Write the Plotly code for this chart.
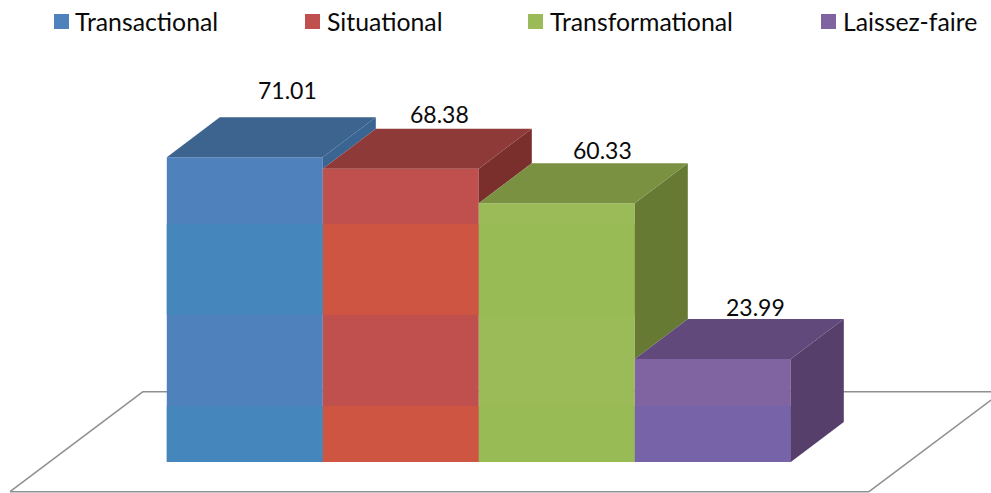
import plotly.graph_objects as go

# Leadership styles and their scores
categories = ["Transactional", "Situational", "Transformational", "Laissez-faire"]
values = [71.01, 68.38, 60.33, 23.99]

# Face colours for each style
front_colors = ["#4F81BD", "#C0504D", "#9BBB59", "#8064A2"]
band_colors = ["#4587BC", "#CD5542", "#98BB55", "#7764A8"]
top_colors = ["#3D638F", "#8E3A38", "#7A9142", "#614A7B"]
side_colors = ["#3A6491", "#7A2F2D", "#667A33", "#563F6A"]

W, H = 991, 493
BASE_PX, LEFT_PX = 462, 166.8
BAR_PX, UNIT_PX = 156.0, 4.29
DEPTH_X = 53 / BAR_PX
DEPTH_Y = 40 / UNIT_PX

# Alternate shaded ranges on the front faces, in value units
shade_ranges = [(0, 13.05), (34.27, 55.48)]

# Per-label nudges for the value captions, in pixels
label_shift = [(-10.5, 12), (-14, 0), (-7, -2), (-10, -3)]

# Legend placement, in pixels
legend_swatch_x = [54, 305, 528, 821]
legend_text_x = [75, 327, 549.5, 843]

fig = go.Figure()
xs = [i + 0.5 for i in range(len(values))]

fig.add_trace(go.Bar(x=xs, y=values, width=1, marker=dict(color=front_colors, line_width=0),
                     customdata=categories, hovertemplate="%{customdata}: %{y}<extra></extra>"))

for low, high in shade_ranges:
    fig.add_trace(go.Bar(
        x=xs, base=[low] * len(values),
        y=[max(min(v, high) - low, 0) for v in values],
        width=1, marker=dict(color=band_colors, line_width=0), hoverinfo="skip"))

# Top and side faces follow the bar values, left to right so nearer faces overlap
for i, v in enumerate(values):
    next_v = values[i + 1] if i + 1 < len(values) else 0
    left, right = i, i + 1
    fig.add_trace(go.Scatter(
        x=[right, right + DEPTH_X, right + DEPTH_X, right, right],
        y=[v, v + DEPTH_Y, next_v + DEPTH_Y, next_v, v],
        fill="toself", fillcolor=side_colors[i], mode="none", hoverinfo="skip"))
    fig.add_trace(go.Scatter(
        x=[left, right, right + DEPTH_X, left + DEPTH_X, left],
        y=[v, v, v + DEPTH_Y, v + DEPTH_Y, v],
        fill="toself", fillcolor=top_colors[i], mode="none", hoverinfo="skip"))

# Value captions above each bar
for i, v in enumerate(values):
    dx, dy = label_shift[i]
    fig.add_annotation(x=i + 0.5 + DEPTH_X, y=v + DEPTH_Y, text=f"{v:.2f}", showarrow=False,
                       xanchor="center", yanchor="bottom", xshift=dx, yshift=dy - 1,
                       font=dict(family="Lato", size=23, color="#0A0A0A"))


def paper_x(px):
    return px / W


def paper_y(py):
    return 1 - py / H


# Floor outline behind the bars
floor = dict(type="line", xref="paper", yref="paper", layer="below",
             line=dict(color="#8F8F8F", width=1.5))
for x0, y0, x1, y1 in [(143, 391.7, 991, 391.7), (143, 391.7, 10, 491.7),
                       (10, 491.7, 869, 491.7), (869, 491.7, 991, 400)]:
    fig.add_shape(x0=paper_x(x0), y0=paper_y(y0), x1=paper_x(x1), y1=paper_y(y1), **floor)

# Legend row across the top
for name, color, sx, tx in zip(categories, front_colors, legend_swatch_x, legend_text_x):
    fig.add_shape(type="rect", xref="paper", yref="paper", line_width=0, fillcolor=color,
                  x0=paper_x(sx), x1=paper_x(sx + 15), y0=paper_y(14), y1=paper_y(29))
    fig.add_annotation(xref="paper", yref="paper", x=paper_x(tx), y=paper_y(21), text=name,
                       showarrow=False, xanchor="left", yanchor="middle", xshift=-2,
                       font=dict(family="Lato", size=24.8, color="#0A0A0A"))

fig.update_layout(
    width=W, height=H, margin=dict(l=0, r=0, t=0, b=0),
    paper_bgcolor="white", plot_bgcolor="white", showlegend=False, barmode="overlay",
    xaxis=dict(visible=False, range=[-LEFT_PX / BAR_PX, (W - LEFT_PX) / BAR_PX]),
    yaxis=dict(visible=False, range=[(BASE_PX - H) / UNIT_PX, BASE_PX / UNIT_PX]),
)

fig.write_html("out.html")
